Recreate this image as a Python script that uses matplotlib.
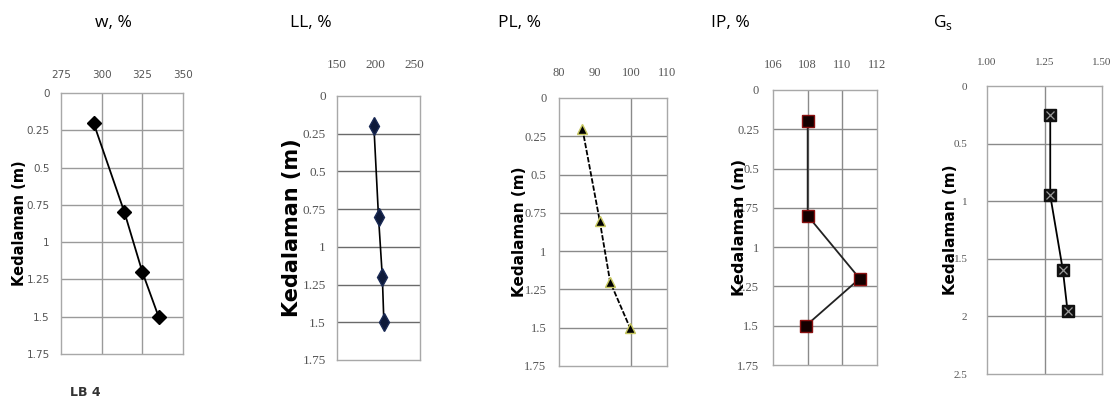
import matplotlib
matplotlib.use("Agg")
import matplotlib.pyplot as plt
import numpy as np

# ---- data ----
depth = [0.2, 0.8, 1.2, 1.5]
w_vals = [295, 314, 325, 335]
ll_vals = [198, 204, 209, 211]
pl_vals = [86.5, 91.3, 94.2, 99.7]
ip_vals = [108.0, 108.0, 111.0, 107.9]
gs_depth = [0.25, 0.95, 1.6, 1.95]
gs_vals = [1.275, 1.275, 1.33, 1.35]

titles = ["w, %", "LL, %", "PL, %", "IP, %", "G$_\\mathregular{s}$"]
ylabel = "Kedalaman (m)"

w_ticks = [275, 300, 325, 350]
ll_ticks = [150, 200, 250]
pl_ticks = [80, 90, 100, 110]
ip_ticks = [106, 108, 110, 112]
gs_ticks = [1.00, 1.25, 1.50]
gs_tick_labels = ["1.00", "1.25", "1.50"]
depth_ticks = [0, 0.25, 0.5, 0.75, 1, 1.25, 1.5, 1.75]
depth_labels = ["0", "0.25", "0.5", "0.75", "1", "1.25", "1.5", "1.75"]
gs_depth_ticks = [0, 0.5, 1, 1.5, 2, 2.5]
gs_depth_labels = ["0", "0.5", "1", "1.5", "2", "2.5"]

W, H = 1120, 420
fig = plt.figure(figsize=(W / 100, H / 100), dpi=100)


def box(x0, x1, y0, y1):
    return [x0 / W, 1 - y1 / H, (x1 - x0) / W, (y1 - y0) / H]


def style(ax, xlim, xticks, xlabels, ylim, yticks, ylabels, vgrid, hcolor,
          font, fsize, xpad, ypad, vcolor="#9a9a9a"):
    ax.set_xlim(*xlim)
    ax.set_ylim(ylim[1], ylim[0])
    ax.xaxis.tick_top()
    ax.set_xticks(xticks)
    ax.set_xticklabels(xlabels, fontfamily=font, fontsize=fsize, color="#555555")
    ax.set_yticks(yticks)
    ax.set_yticklabels(ylabels, fontfamily=font, fontsize=fsize, color="#555555")
    ax.tick_params(axis="x", length=0, pad=xpad)
    ax.tick_params(axis="y", length=0, pad=ypad)
    for y in yticks[1:-1]:
        ax.axhline(y, color=hcolor, lw=1.0, zorder=1)
    for x in vgrid:
        ax.axvline(x, color=vcolor, lw=1.0, zorder=1)
    for s in ax.spines.values():
        s.set_color("#a8a8a8")
        s.set_linewidth(1.0)


# Panel 1: w
ax1 = fig.add_axes(box(61, 183, 93, 354))
style(ax1, (275, 350), w_ticks, [str(t) for t in w_ticks], (0, 1.75),
      depth_ticks, depth_labels, [300, 325], "#9a9a9a", "DejaVu Sans", 7.5, 9, 8)
ax1.plot(w_vals, depth, color="black", lw=1.3, marker="D", ms=7,
         mfc="black", mec="black", zorder=3)
ax1.set_ylabel(ylabel, fontsize=10.5, fontweight="bold")
ax1.yaxis.set_label_coords(-0.28, 0.5)

# Panel 2: LL
ax2 = fig.add_axes(box(337, 420, 96, 360))
style(ax2, (150, 258), ll_ticks, [str(t) for t in ll_ticks], (0, 1.75),
      depth_ticks, depth_labels, [], "#6a6a6a", "Liberation Serif", 9.5, 18, 8)
ax2.plot(ll_vals, depth, color="black", lw=1.2, marker="d", ms=9,
         mfc="#0e1a3a", mec="#1a2a55", zorder=3)
ax2.set_ylabel(ylabel, fontsize=15, fontweight="bold")
ax2.yaxis.set_label_coords(-0.42, 0.5)

# Panel 3: PL
ax3 = fig.add_axes(box(559, 667, 98, 366))
style(ax3, (80, 110), pl_ticks, [str(t) for t in pl_ticks], (0, 1.75),
      depth_ticks, depth_labels, [100], "#8a8a8a", "Liberation Serif", 9, 14, 9,
      vcolor="#8a8a8a")
ax3.plot(pl_vals, depth, color="black", lw=1.3, ls=(0, (3, 1)), marker="^", ms=7,
         mfc="black", mec="#c8c860", zorder=3)
ax3.set_ylabel(ylabel, fontsize=11, fontweight="bold")
ax3.yaxis.set_label_coords(-0.296, 0.5)

# Panel 4: IP
ax4 = fig.add_axes(box(773, 877, 90, 365))
style(ax4, (106, 112), ip_ticks, [str(t) for t in ip_ticks], (0, 1.75),
      depth_ticks, depth_labels, [108, 110], "#8a8a8a", "Liberation Serif", 9, 14, 10,
      vcolor="#8a8a8a")
ax4.plot(ip_vals, depth, color="#222222", lw=1.3, marker="s", ms=8,
         mfc="#140000", mec="#8a1010", zorder=3)
ax4.set_ylabel(ylabel, fontsize=11.5, fontweight="bold")
ax4.yaxis.set_label_coords(-0.25, 0.5)

# Panel 5: Gs
ax5 = fig.add_axes(box(987, 1102, 86, 374))
style(ax5, (1.0, 1.5), gs_ticks, gs_tick_labels, (0, 2.5),
      gs_depth_ticks, gs_depth_labels, [1.25], "#8a8a8a", "Liberation Serif", 8, 14, 14,
      vcolor="#8a8a8a")
ax5.plot(gs_vals, gs_depth, color="black", lw=1.3, marker="s", ms=9,
         mfc="#111111", mec="#111111", zorder=3)
ax5.plot(gs_vals, gs_depth, ls="none", marker="x", ms=6, mew=0.9,
         color="#9a9a9a", zorder=4)
ax5.set_ylabel(ylabel, fontsize=11, fontweight="bold")
ax5.yaxis.set_label_coords(-0.252, 0.5)

# Titles above panels
title_x = [113, 311, 520, 730, 943]
for tx, t in zip(title_x, titles):
    fig.text(tx / W, 1 - 23 / H, t, ha="center", va="center", fontsize=12.5,
             fontfamily="Open Sans", color="black")

fig.text(85 / W, 1 - 393 / H, "LB 4", ha="center", va="center", fontsize=9,
         fontweight="bold", color="#333333")

fig.savefig("out.png", dpi=100)
